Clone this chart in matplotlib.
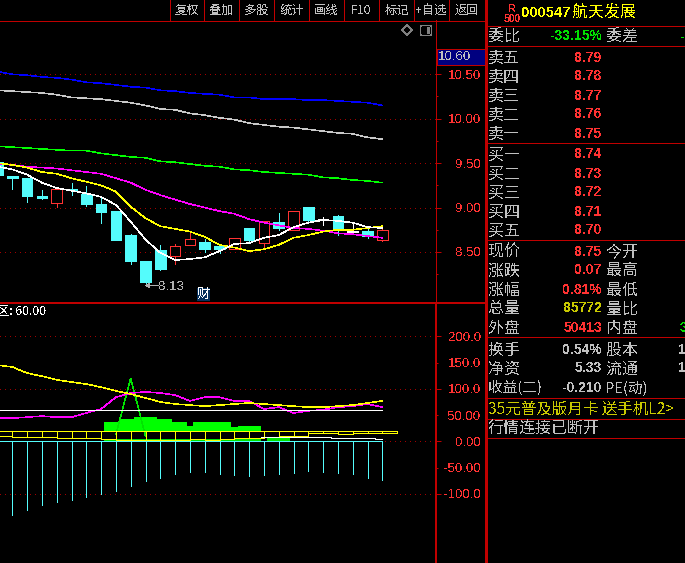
#!/usr/bin/env python3
"""K-line screen for 000547 with MACD-style lower panel and quote sidebar."""
import numpy as np
import matplotlib
matplotlib.use("Agg")
import matplotlib.pyplot as plt
from matplotlib.patches import Rectangle, Polygon, FancyBboxPatch

plt.rcParams.update({"font.family": ["Noto Sans CJK SC", "DejaVu Sans"],
                     "text.antialiased": False, "lines.antialiased": False,
                     "patch.antialiased": False})

RED = "#c00000"
PRICE = "#ff3232"
GRAY = "#c0c0c0"
CYAN = "#54fcfc"
OLIVE = "#c8c800"
YELLOW = "#ffff00"
MAGENTA = "#ff00ff"
GREEN = "#00ff00"
LIME = "#00e400"
PX = 0.72    # one pixel at dpi 100
SLOPE = 0.4  # sloped lines without antialiasing come out fat, so go thinner

# ---- candles, first one sits just off the left edge -------------------------
OPEN = [9.51, 9.36, 9.33, 9.13, 9.05, 9.21, 9.15, 9.04, 8.96, 8.69, 8.40, 8.52, 8.46, 8.58,
        8.61, 8.57, 8.53, 8.77, 8.60, 8.84, 8.75, 9.01, 8.87, 8.91, 8.73, 8.74, 8.64]
CLOSE = [9.37, 9.33, 9.13, 9.11, 9.21, 9.20, 9.04, 8.95, 8.64, 8.40, 8.16, 8.31, 8.57, 8.65,
         8.53, 8.53, 8.66, 8.64, 8.85, 8.77, 8.96, 8.86, 8.87, 8.76, 8.73, 8.68, 8.75]
HIGH = [9.51, 9.36, 9.33, 9.20, 9.22, 9.28, 9.24, 9.11, 8.96, 8.70, 8.40, 8.58, 8.59, 8.71,
        8.65, 8.57, 8.66, 8.77, 8.85, 8.94, 8.96, 9.01, 8.89, 8.92, 8.82, 8.78, 8.79]
LOW = [9.37, 9.21, 9.06, 9.10, 9.01, 9.14, 9.02, 8.83, 8.64, 8.36, 8.13, 8.30, 8.36, 8.58,
       8.50, 8.49, 8.53, 8.61, 8.56, 8.75, 8.75, 8.83, 8.80, 8.69, 8.70, 8.66, 8.62]

MA5 = [9.46, 9.43, 9.37, 9.28, 9.22, 9.19, 9.16, 9.12, 9.03, 8.84, 8.64, 8.49, 8.41, 8.42,
       8.44, 8.51, 8.59, 8.60, 8.66, 8.69, 8.78, 8.83, 8.86, 8.85, 8.83, 8.78, 8.77]
MA10 = [9.50, 9.48, 9.45, 9.40, 9.38, 9.33, 9.29, 9.25, 9.18, 9.01, 8.88, 8.79, 8.76, 8.73,
        8.67, 8.58, 8.55, 8.51, 8.53, 8.58, 8.66, 8.69, 8.73, 8.75, 8.75, 8.77, 8.79]
MA20 = [9.49, 9.48, 9.46, 9.45, 9.44, 9.42, 9.40, 9.38, 9.33, 9.28, 9.20, 9.14, 9.09, 9.04,
        9.00, 8.96, 8.93, 8.87, 8.83, 8.80, 8.77, 8.76, 8.74, 8.71, 8.70, 8.68, 8.66]
MA60 = [9.69, 9.68, 9.67, 9.66, 9.65, 9.64, 9.64, 9.61, 9.59, 9.57, 9.56, 9.52, 9.51, 9.49,
        9.47, 9.46, 9.43, 9.42, 9.40, 9.39, 9.38, 9.37, 9.34, 9.33, 9.31, 9.30, 9.28]
MA120 = [10.32, 10.31, 10.30, 10.29, 10.27, 10.24, 10.23, 10.22, 10.20, 10.18, 10.15, 10.11,
         10.10, 10.06, 10.04, 10.01, 9.99, 9.95, 9.93, 9.91, 9.90, 9.88, 9.86, 9.84, 9.83,
         9.79, 9.77]
MA250 = [10.53, 10.50, 10.49, 10.47, 10.46, 10.44, 10.41, 10.40, 10.38, 10.36, 10.35, 10.32,
         10.31, 10.29, 10.28, 10.27, 10.24, 10.24, 10.22, 10.22, 10.22, 10.21, 10.21, 10.20,
         10.19, 10.18, 10.15]

# ---- lower panel ------------------------------------------------------------
NEG_BARS = [-141, -130, -122, -116, -111, -107, -101, -95, -86, -76, -69, -63, -59, -59, -63,
            -65, -67, -65, -63, -61, -57, -59, -61, -63, -69, -73]
SIG_YELLOW = [145, 141.5, 130, 124, 117, 113, 109, 103, 96, 90, 82.5, 75, 71, 69, 67, 69, 71,
              73, 71, 69, 67, 65, 65, 67, 69, 73, 77]
SIG_MAGENTA = [44, 44, 46, 48, 46, 46, 54, 61.5, 84, 92, 94, 92, 88, 77, 84, 84, 77, 77, 61.5,
               65, 54, 58, 60, 65, 67, 71, 65]
SPIKE_X = [7, 8, 9]
SPIKE_Y = [13, 120, 10]
LEVEL_LINE = 60
BOX_TOP = 19
BOX_LOW = [11, 8, 8, 8, 6, 6, 6, 4.4, 3, 3, 3, 3, 3, 4.4, 2.5, 5, 6, 6, 9, 9.5, 11, 15, 15, 13,
           15, 15, 15]
AREA_EDGES = [6.2, 7.2, 8.22, 9.78, 10.79, 11.8, 12.2, 14.78, 15.25, 16.8]
AREA_TOPS = [36.8, 42.5, 46.3, 42.5, 36.8, 29, 36.8, 27, 29]
STRIP_EDGES = [6.2, 16.05, 16.8, 17.2, 18.75]
STRIP_TOPS = [4.4, 6, 0, 8]
FLOOR_EDGES = [-0.5, 6, 16.8, 21.5, 24.5, 25]
FLOOR_TOPS = [1.3, np.nan, 7.6, 5.7, 3.8]

# ---- text -------------------------------------------------------------------
TOOLBAR = ["复权", "叠加", "多股", "统计", "画线", "F10", "标记", "+自选", "返回"]
PRICE_TICKS = [10.5, 10.0, 9.5, 9.0, 8.5]
PRICE_MINOR = [10.75, 10.25, 9.75, 9.25, 8.75, 8.25]
OSC_TICKS = [200, 100, 0, -100]
OSC_TICK_LABELS = ["200.0", "100.0", "0.00", "-100.0"]
OSC_MINOR = [150, 50, -50]
OSC_MINOR_LABELS = ["150.0", "50.00", "-50.00"]
ASK_LABELS = ["卖五", "卖四", "卖三", "卖二", "卖一"]
ASK_PRICES = ["8.79", "8.78", "8.77", "8.76", "8.75"]
BID_LABELS = ["买一", "买二", "买三", "买四", "买五"]
BID_PRICES = ["8.74", "8.73", "8.72", "8.71", "8.70"]
QUOTE_LABELS = ["现价", "涨跌", "涨幅", "总量", "外盘"]
QUOTE_VALUES = ["8.75", "0.07", "0.81%", "85772", "50413"]
QUOTE_COLORS = [PRICE, PRICE, PRICE, OLIVE, PRICE]
QUOTE_RIGHT = ["今开", "最高", "最低", "量比", "内盘"]
FUND_LABELS = ["换手", "净资", "收益(二)"]
FUND_VALUES = ["0.54%", "5.33", "-0.210"]
FUND_RIGHT = ["股本", "流通", "PE(动)"]

W, H = 685, 563
fig = plt.figure(figsize=(W / 100, H / 100), dpi=100, facecolor="black")


def panel(top, bottom):
    ax = fig.add_axes([0, 1 - bottom / H, 436 / W, (bottom - top) / H], facecolor="black")
    for s in ax.spines.values():
        s.set_visible(False)
    # bar index -> pixel: 12.3 + 14.8 * i
    ax.set_xlim(-12.3 / 14.8, (436 - 12.3) / 14.8)
    ax.xaxis.set_visible(False)
    ax.yaxis.tick_right()
    ax.tick_params(axis="y", which="major", length=3.6, width=PX, color=RED, pad=28.8,
                   labelcolor=PRICE, labelsize=9.5)
    ax.tick_params(axis="y", which="minor", length=1.5, width=PX, color=RED, pad=30.9,
                   labelcolor=PRICE, labelsize=9.5)
    ax.grid(axis="y", which="major", color="#a00000", lw=PX, ls=(0, (1, 5)))
    ax.set_axisbelow(True)
    return ax


# ---- price panel ------------------------------------------------------------
ax = panel(20, 302)
ax.set_ylim(7.937, 11.111)
ax.set_yticks(PRICE_TICKS)
ax.set_yticklabels([f"{t:.2f}" for t in PRICE_TICKS], ha="right", family="Liberation Sans")
ax.set_yticks(PRICE_MINOR, minor=True)

for i, (o, c, hi, lo) in enumerate(zip(OPEN, CLOSE, HIGH, LOW)):
    x = i - 1
    if c > o:
        col, face = "#ff3232", "black"
    elif c == o:
        col, face = "white", "white"
    else:
        col, face = CYAN, CYAN
    ax.plot([x, x], [lo, hi], color=col, lw=PX, zorder=2)
    ax.bar(x, max(abs(c - o), 0.005), bottom=min(o, c), width=0.72, facecolor=face,
           edgecolor=col, lw=PX, joinstyle="miter", zorder=3)

days = np.arange(len(MA5)) - 1
ax.plot(days, MA250, color="#0000ff", lw=SLOPE, zorder=4)
ax.plot(days, MA120, color="#c8c8c8", lw=SLOPE, zorder=4)
ax.plot(days, MA60, color=GREEN, lw=SLOPE, zorder=4)
ax.plot(days, MA20, color=MAGENTA, lw=SLOPE, zorder=4)
ax.plot(days, MA10, color=YELLOW, lw=SLOPE, zorder=4)
ax.plot(days, MA5, color="white", lw=SLOPE, zorder=4)

# ---- oscillator panel -------------------------------------------------------
ax2 = panel(303, H)
ax2.set_ylim(-231.8, 263.4)
ax2.set_yticks(OSC_TICKS)
ax2.set_yticklabels(OSC_TICK_LABELS, ha="right", family="Liberation Sans")
ax2.set_yticks(OSC_MINOR, minor=True)
ax2.set_yticklabels(OSC_MINOR_LABELS, minor=True, ha="right", family="Liberation Sans")

ax2.stairs(AREA_TOPS, AREA_EDGES, baseline=BOX_TOP, fill=True, color=GREEN, zorder=2)
ax2.stairs(STRIP_TOPS, STRIP_EDGES, baseline=0, fill=True, color=LIME, zorder=2)
ax2.plot(SPIKE_X, SPIKE_Y, color=LIME, lw=SLOPE, zorder=2)
ax2.plot(days, SIG_MAGENTA, color=MAGENTA, lw=SLOPE, zorder=3)
ax2.plot(days, SIG_YELLOW, color=YELLOW, lw=SLOPE, zorder=3)
ax2.plot([days[0], days[-1]], [LEVEL_LINE, LEVEL_LINE], color="white", lw=PX, zorder=4)

# hollow yellow boxes, one per bar, each runs to the next bar
edges = np.arange(-1.0, 27.0)
edges[0] = -1.5
ax2.stairs(BOX_LOW, edges, baseline=None, color=YELLOW, lw=PX, zorder=3)
ax2.plot([-1.5, 26], [BOX_TOP, BOX_TOP], color=YELLOW, lw=PX, zorder=3)
for i, low in enumerate(BOX_LOW[1:]):
    ax2.plot([i, i], [low, BOX_TOP], color=YELLOW, lw=PX, zorder=3)
ax2.plot([26, 26], [BOX_LOW[-1], BOX_TOP], color=YELLOW, lw=PX, zorder=3)
ax2.stairs(FLOOR_TOPS, FLOOR_EDGES, baseline=None, color="white", lw=PX, zorder=4)

ax2.plot([-1.5, 25], [0, 0], color=CYAN, lw=PX, zorder=5)
for i, v in enumerate(NEG_BARS):
    ax2.plot([i, i], [0, v], color=CYAN, lw=PX, zorder=5)

# ---- chrome in pixel coordinates --------------------------------------------
ui = fig.add_axes([0, 0, 1, 1], facecolor="none")
ui.set_xlim(0, W)
ui.set_ylim(H, 0)
ui.axis("off")


def hline(y, x0, x1, lw=PX):
    ui.plot([x0, x1], [y, y], color=RED, lw=lw, solid_capstyle="butt")


def vline(x, y0, y1, lw=PX):
    ui.plot([x, x], [y0, y1], color=RED, lw=lw, solid_capstyle="butt")


def txt(x, y, s, color=GRAY, size=11.5, ha="left", **kw):
    ui.text(x, y, s, color=color, fontsize=size, ha=ha, va="center", **kw)


def value(x, y, s, color, ha="right", size=10):
    ui.text(x, y, s, color=color, fontsize=size, ha=ha, va="center",
            family="Liberation Sans", weight="bold")


hline(20.5, 0, 486)
hline(302.5, 0, 486, lw=1.44)
vline(436, 20, 302)
vline(436.5, 302, H, lw=1.44)
vline(486, 0, H, lw=1.0)
for y in (26, 46, 143, 240, 337, 398, 419, 438):
    hline(y, 486, W)

seps = [170, 204, 239, 274, 309, 344, 379, 414, 449, 485]
for x in seps:
    vline(x, 0, 20)
for j, s in enumerate(TOOLBAR):
    txt((seps[j] + seps[j + 1]) / 2, 10.5, s, size=8.8, ha="center")

ui.add_patch(Rectangle((437, 49), 48, 16, facecolor="#000080", edgecolor=RED, lw=PX))
txt(438, 57.5, "10.60", size=9.5, family="Liberation Sans")
ui.add_patch(Polygon([(407, 25), (412, 30), (407, 35), (402, 30)], closed=True,
                     facecolor="none", edgecolor="#808080", lw=PX))
ui.add_patch(FancyBboxPatch((421, 26), 10, 9, boxstyle="round,pad=0.5,rounding_size=1",
                            facecolor="none", edgecolor="#808080", lw=PX))
ui.add_patch(Rectangle((427, 27), 3, 7, facecolor="#808080", edgecolor="none"))

# low marker and the 财 flag
ui.annotate("", xy=(145, 285.5), xytext=(158, 285.5),
            arrowprops=dict(arrowstyle="->", color="#b0b0b0", lw=PX, shrinkA=0, shrinkB=0,
                            mutation_scale=6))
txt(158.5, 286.5, "8.13", color="#b0b0b0", size=9.5, family="Liberation Sans")
ui.add_patch(Rectangle((197, 288), 13, 13, facecolor="#06305c", edgecolor="none"))
txt(203.5, 294.5, "财", color="white", size=9.5, ha="center")
txt(-3, 311, "区: 60.00", color="white", size=8.8)

# sidebar header
value(512, 9, "R", PRICE, ha="center", size=8)
value(512, 19.5, "500", PRICE, ha="center", size=7.5)
value(521, 13, "000547", YELLOW, ha="left", size=10.5)
txt(572, 13.5, "航天发展", color=YELLOW, size=11.5)

txt(488, 37, "委比")
value(602, 36.5, "-33.15%", "#00e000", size=10)
txt(606, 37, "委差")
value(681, 36.5, "-", "#00e000", ha="left")

for j, (lab, p) in enumerate(zip(ASK_LABELS, ASK_PRICES)):
    txt(488, 58 + 19 * j, lab)
    value(602, 57.5 + 19 * j, p, PRICE)
for j, (lab, p) in enumerate(zip(BID_LABELS, BID_PRICES)):
    txt(488, 155 + 19 * j, lab)
    value(602, 154.5 + 19 * j, p, PRICE)
for j, (lab, v, c, r) in enumerate(zip(QUOTE_LABELS, QUOTE_VALUES, QUOTE_COLORS, QUOTE_RIGHT)):
    txt(488, 252 + 19 * j, lab)
    value(602, 251.5 + 19 * j, v, c)
    txt(606, 252 + 19 * j, r)
value(680, 327.5, "3", "#00e000", ha="left")
for j, (lab, v, r) in enumerate(zip(FUND_LABELS, FUND_VALUES, FUND_RIGHT)):
    txt(488, 350 + 19 * j, lab, size=11.5 if j < 2 else 10.5)
    value(602, 349.5 + 19 * j, v, GRAY)
    txt(606, 350 + 19 * j, r, size=11.5 if j < 2 else 10.5)
value(678, 349.5, "1", GRAY, ha="left")
value(678, 368.5, "1", GRAY, ha="left")
txt(488, 409, "35元普及版月卡 送手机L2>", color=OLIVE, size=11.2)
txt(488, 429, "行情连接已断开", size=11.5)

fig.savefig("out.png", dpi=100, facecolor="black")
